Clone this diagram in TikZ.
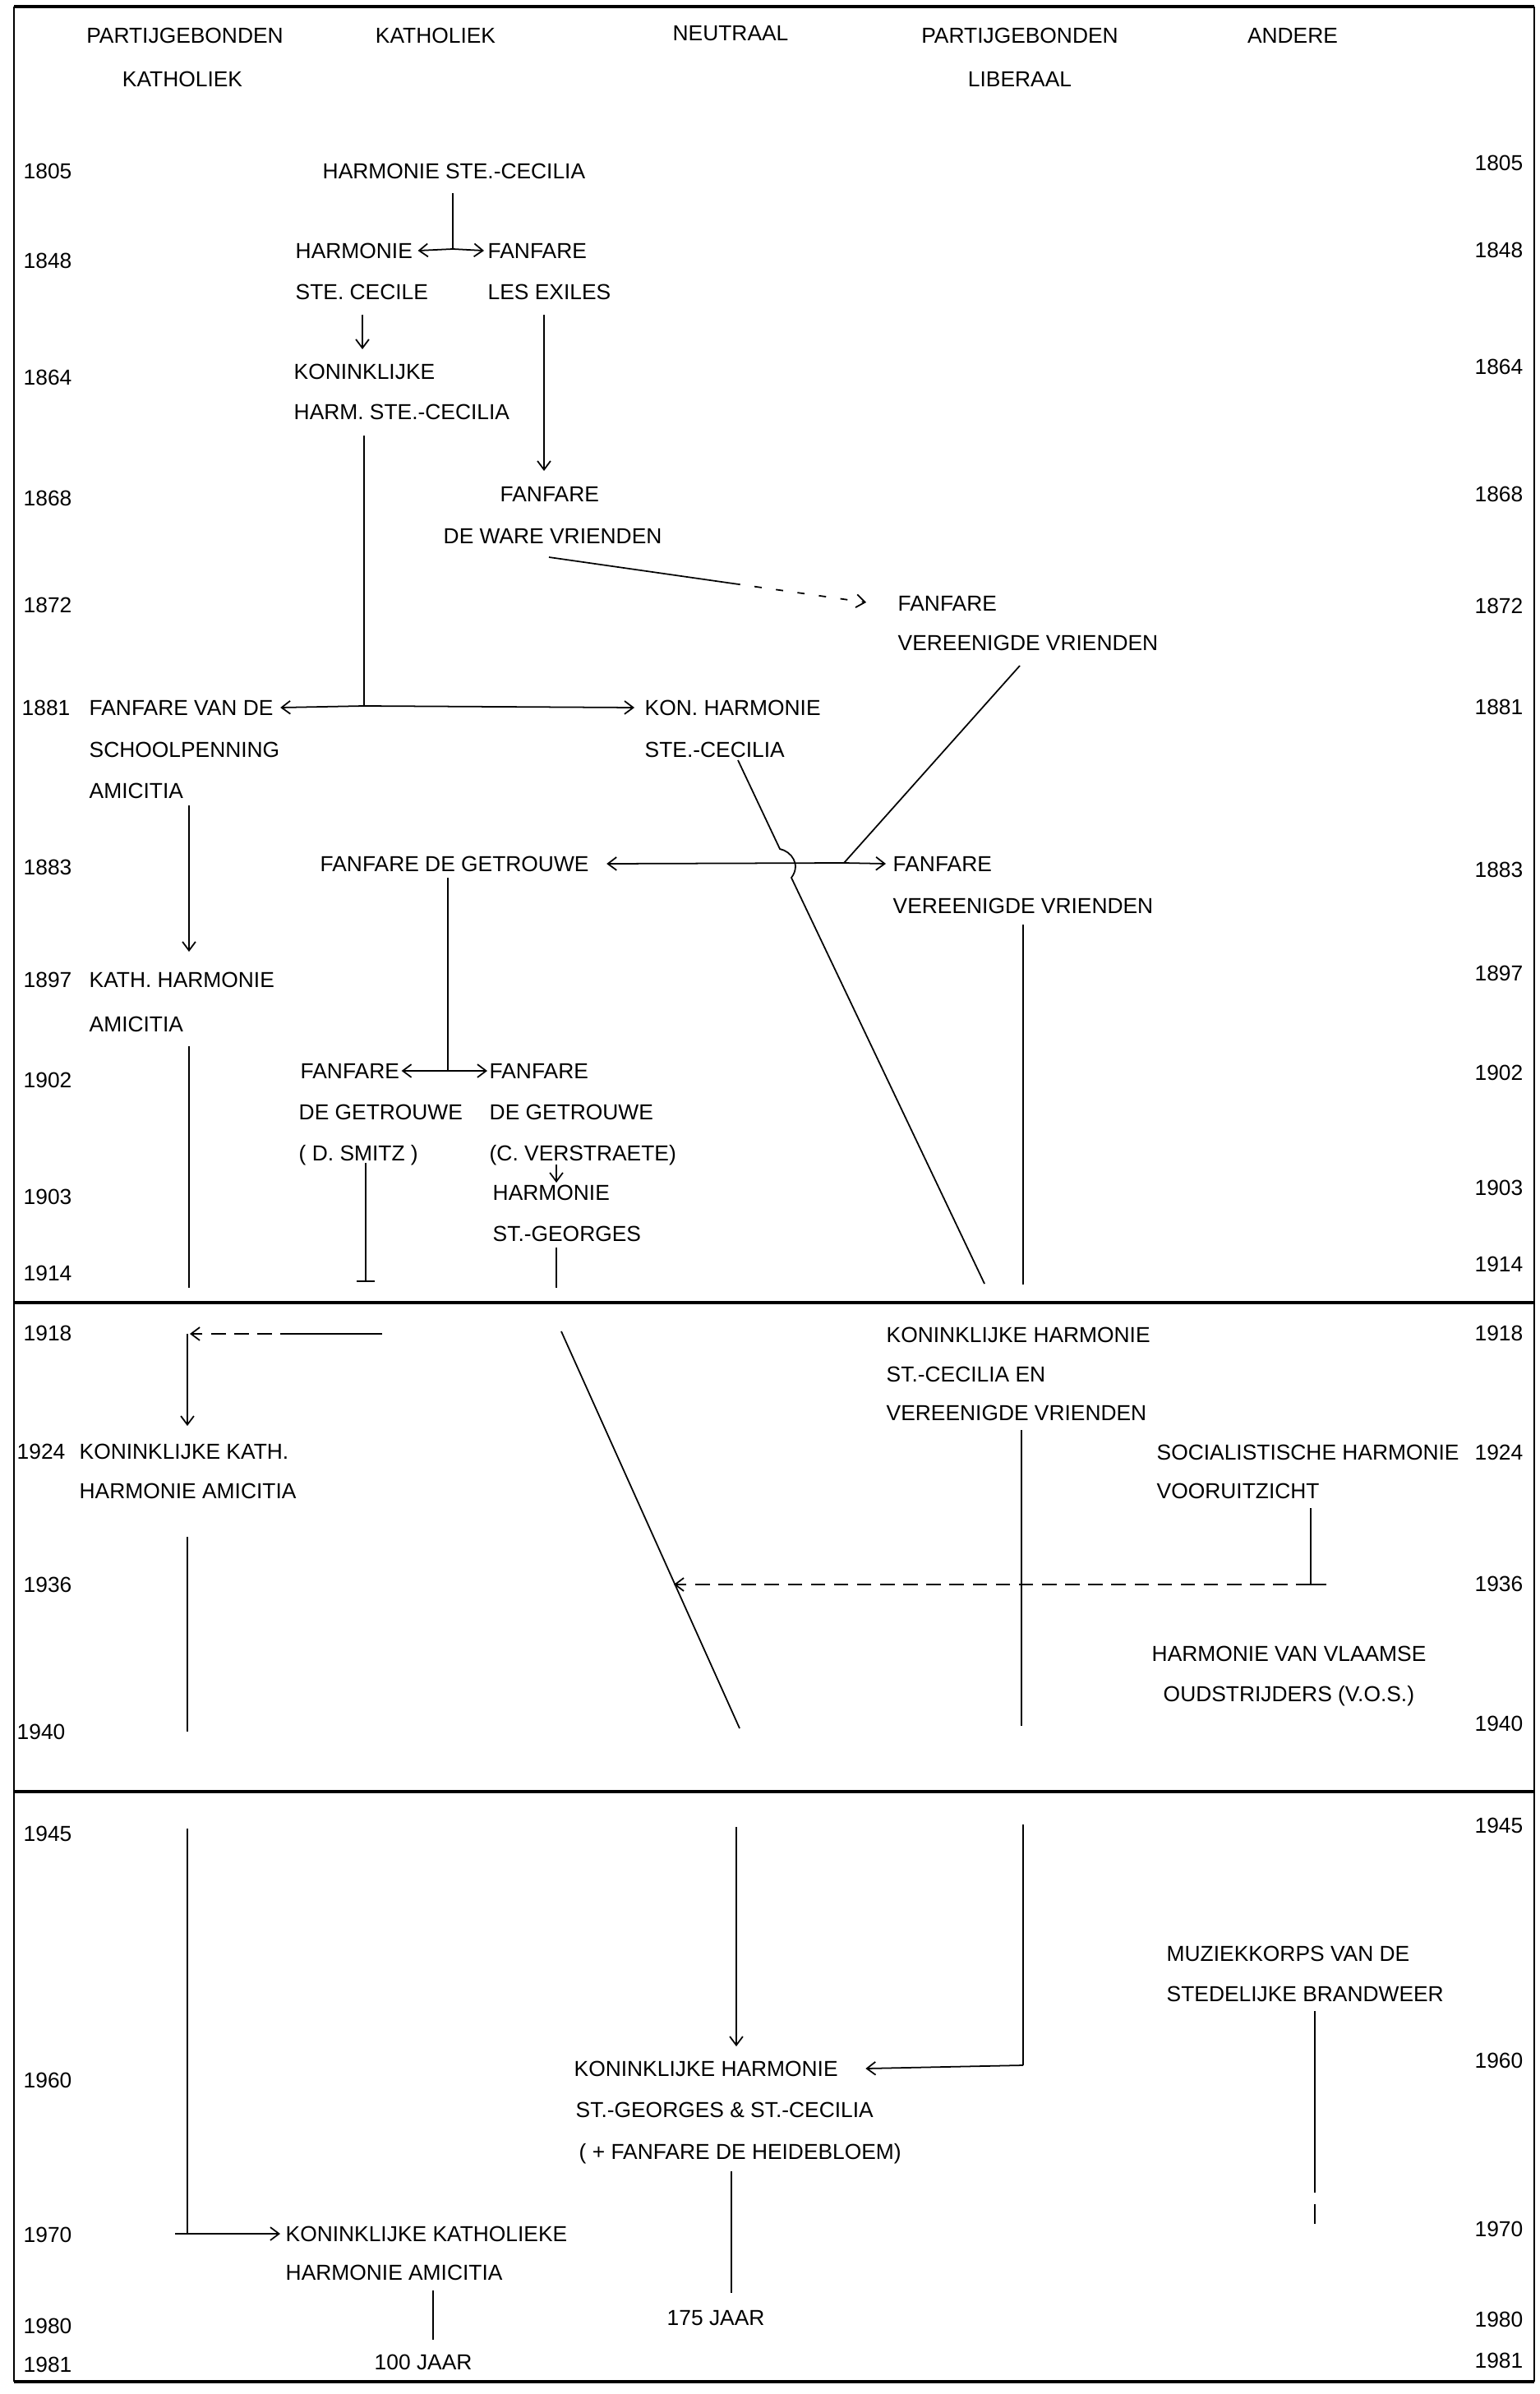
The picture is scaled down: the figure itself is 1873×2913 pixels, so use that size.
\documentclass[tikz,border=0pt]{standalone}
\usepackage{fontspec}
\setmainfont{Liberation Sans}
\usetikzlibrary{arrows.meta,calc}
\tikzset{
  txt/.style={font=\fontsize{7.5}{9}\selectfont, inner sep=0pt, text height=5.37pt, text depth=0pt, anchor=west},
  hdr/.style={txt, anchor=center},
  ln/.style={line width=0.5pt},
  arr/.style={ln, -{Straight Barb[length=3pt,width=4.5pt]}},
  dasharr/.style={arr, dash pattern=on 5pt off 3pt},
  sparsearr/.style={arr, dash pattern=on 2.5pt off 5pt},
  sepline/.style={line width=1.2pt},
  tbar/.style={ln, -{Bar[width=6.5pt]}},
}
\begin{document}
\begin{tikzpicture}[x=0.01cm,y=-0.01cm]
\useasboundingbox (0,0) rectangle (1873,2913);
% frame
\draw[line width=0.6pt] (17,8) -- (17,2898);
\draw[line width=0.6pt] (1867,8) -- (1867,2898);
\draw[line width=1.1pt] (17,8) -- (1867,8);
\draw[line width=1.1pt] (17,2898) -- (1867,2898);
\draw[sepline] (17,1585) -- (1867,1585);
\draw[sepline] (17,2180) -- (1867,2180);

% headers
\node[hdr] (h1a) at (225,43) {PARTIJGEBONDEN};
\node[hdr] (h1b) at (222,96) {KATHOLIEK};
\node[hdr] (h2) at (530,43) {KATHOLIEK};
\node[hdr] (h3) at (889,40) {NEUTRAAL};
\node[hdr] (h4a) at (1241,43) {PARTIJGEBONDEN};
\node[hdr] (h4b) at (1241,96) {LIBERAAL};
\node[hdr] (h5) at (1573,43) {ANDERE};

% years
\foreach \yr/\xl/\yl/\yrr in {1805/28/208/198, 1848/28/317/304, 1864/28/459/446, 1868/28/606/601,
  1872/28/736/737, 1881/26/861/860, 1883/28/1055/1058, 1897/28/1192/1184, 1902/28/1314/1305,
  1903/28/1456/1445, 1914/28/1549/1538, 1918/28/1622/1622, 1924/20/1766/1767, 1936/28/1928/1927,
  1940/20/2107/2097, 1945/28/2231/2221, 1960/28/2531/2507, 1970/28/2719/2712, 1980/28/2830/2822,
  1981/28/2877/2872}{
  \node[txt] (L\yr) at (\xl,\yl) {\yr};
  \node[txt,anchor=east] (R\yr) at (1854,\yrr) {\yr};
}

% texts
\node[txt] (n05) at (392,208) {HARMONIE STE.-CECILIA};
\node[txt] (n48a) at (359,305) {HARMONIE};
\node[txt] (n48b) at (359,355) {STE. CECILE};
\node[txt] (n48c) at (593,305) {FANFARE};
\node[txt] (n48d) at (593,355) {LES EXILES};
\node[txt] (n64a) at (357,452) {KONINKLIJKE};
\node[txt] (n64b) at (357,501) {HARM. STE.-CECILIA};
\node[txt] (n68a) at (608,601) {FANFARE};
\node[txt] (n68b) at (539,652) {DE WARE VRIENDEN};
\node[txt] (n72a) at (1092,734) {FANFARE};
\node[txt] (n72b) at (1092,782) {VEREENIGDE VRIENDEN};
\node[txt] (n81a) at (108,861) {FANFARE VAN DE};
\node[txt] (n81b) at (108,912) {SCHOOLPENNING};
\node[txt] (n81c) at (108,962) {AMICITIA};
\node[txt] (n81d) at (784,861) {KON. HARMONIE};
\node[txt] (n81e) at (784,912) {STE.-CECILIA};
\node[txt] (n83a) at (389,1051) {FANFARE DE GETROUWE};
\node[txt] (n83b) at (1086,1051) {FANFARE};
\node[txt] (n83c) at (1086,1102) {VEREENIGDE VRIENDEN};
\node[txt] (n97a) at (108,1192) {KATH. HARMONIE};
\node[txt] (n97b) at (108,1246) {AMICITIA};
\node[txt] (n02a) at (365,1303) {FANFARE};
\node[txt] (n02b) at (363,1353) {DE GETROUWE};
\node[txt] (n02c) at (363,1403) {( D. SMITZ )};
\node[txt] (n02d) at (595,1303) {FANFARE};
\node[txt] (n02e) at (595,1353) {DE GETROUWE};
\node[txt] (n02f) at (595,1403) {(C. VERSTRAETE)};
\node[txt] (n03a) at (599,1451) {HARMONIE};
\node[txt] (n03b) at (599,1501) {ST.-GEORGES};
\node[txt] (n18a) at (1078,1624) {KONINKLIJKE HARMONIE};
\node[txt] (n18b) at (1078,1672) {ST.-CECILIA EN};
\node[txt] (n18c) at (1078,1719) {VEREENIGDE VRIENDEN};
\node[txt] (n24a) at (96,1766) {KONINKLIJKE KATH.};
\node[txt] (n24b) at (96,1814) {HARMONIE AMICITIA};
\node[txt] (n24c) at (1407,1767) {SOCIALISTISCHE HARMONIE};
\node[txt] (n24d) at (1407,1814) {VOORUITZICHT};
\node[txt] (nvosa) at (1401,2012) {HARMONIE VAN VLAAMSE};
\node[txt] (nvosb) at (1415,2061) {OUDSTRIJDERS (V.O.S.)};
\node[txt] (nbra) at (1419,2377) {MUZIEKKORPS VAN DE};
\node[txt] (nbrb) at (1419,2426) {STEDELIJKE BRANDWEER};
\node[txt] (n60a) at (698,2517) {KONINKLIJKE HARMONIE};
\node[txt] (n60b) at (700,2567) {ST.-GEORGES \& ST.-CECILIA};
\node[txt] (n60c) at (704,2618) {( + FANFARE DE HEIDEBLOEM)};
\node[txt] (n175) at (811,2820) {175 JAAR};
\node[txt] (n70a) at (347,2718) {KONINKLIJKE KATHOLIEKE};
\node[txt] (n70b) at (347,2765) {HARMONIE AMICITIA};
\node[txt] (n100) at (455,2874) {100 JAAR};

% junctions
\coordinate (j48) at (551,303);
\coordinate (j81) at (443,859);
\coordinate (j83) at (1027,1050);
\coordinate (j02) at (545,1303);
\coordinate (c18) at (228,1623);
\coordinate (j36) at (1595,1928);
\coordinate (c60) at (1245,2513);
\coordinate (c70) at (228,2718);

% 1805 - 1914
\draw[ln] (551,235) -- (j48);
\draw[arr] (j48) -- ($(n48a.east)+(6,0)$ |- j48);
\draw[arr] (j48) -- ($(n48c.west)+(-4,0)$ |- j48);
\draw[arr] (441,383) -- (441,425);
\draw[arr] (662,383) -- (662,573);
\draw[ln] (443,530) -- (j81);
\draw[arr] (j81) -- ($(n81a.east)+(8,0)$ |- j81);
\draw[arr] (j81) -- ($(n81d.west)+(-12,0)$ |- j81);
\draw[ln] (668,678) -- (892,710);
\draw[sparsearr] (892,710) -- ($(n72a.west)+(-38,-1)$);
\draw[ln] (1241,810) -- (j83);
\draw[arr] (j83) -- ($(n83a.east)+(21,0)$ |- j83);
\draw[arr] (j83) -- ($(n83b.west)+(-8,0)$ |- j83);
\draw[ln] (898,925) -- (949,1033) .. controls (963,1036) and (975,1052) .. (963,1068) -- (1198,1562);
\draw[ln] (545,1068) -- (j02);
\draw[arr] (j02) -- ($(n02a.east)+(2,0)$ |- j02);
\draw[arr] (j02) -- ($(n02d.west)+(-2,0)$ |- j02);
\draw[ln] (1245,1125) -- (1245,1563);
\draw[arr] (230,980) -- (230,1158);
\draw[ln] (230,1273) -- (230,1567);
\draw[tbar] (445,1415) -- (445,1560);
\draw[arr] (677,1417) -- (677,1439);
\draw[ln] (677,1518) -- (677,1567);

% 1918 - 1940
\draw[ln] (465,1623) -- (359,1623);
\draw[dasharr] (359,1623) -- (231,1623);
\draw[arr] (c18) -- (228,1735);
\draw[ln] (683,1620) -- (900,2103);
\draw[ln] (1243,1740) -- (1243,2100);
\draw[ln] (228,1870) -- (228,2107);
\draw[ln] (1595,1835) -- (j36);
\draw[ln] (1581,1928) -- (1614,1928);
\draw[dasharr] (j36) -- (820,1928);

% 1945 - 1981
\draw[ln] (228,2225) -- (c70);
\draw[arr] (213,2718) -- ($(n70a.west)+(-6,0)$);
\draw[arr] (896,2223) -- (896,2490);
\draw[ln] (1245,2220) -- (c60);
\draw[arr] (c60) -- ($(n60a.east)+(33,0)$ |- c60);
\draw[ln] (1600,2447) -- (1600,2643);
\draw[ln, dash pattern=on 7pt off 4pt] (1600,2643) -- (1600,2717);
\draw[ln] (890,2642) -- (890,2790);
\draw[ln] (527,2787) -- (527,2847);
\end{tikzpicture}
\end{document}
